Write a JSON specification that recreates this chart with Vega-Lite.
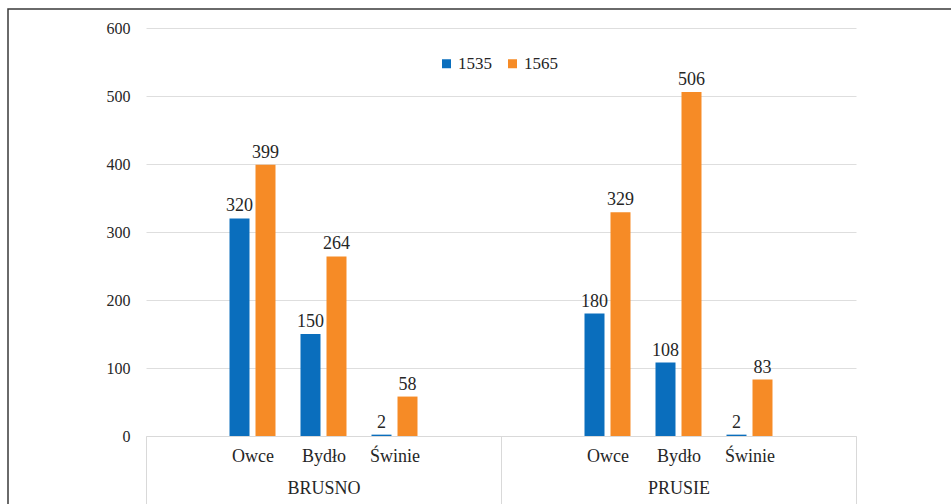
{
  "$schema": "https://vega.github.io/schema/vega-lite/v6.json",
  "width": 946,
  "height": 498,
  "autosize": {"type": "none"},
  "padding": {"left": 8, "top": 9, "right": 0, "bottom": 0},
  "background": "white",
  "config": {
    "view": {"stroke": "#3a3a3a", "strokeWidth": 1.5},
    "font": "Liberation Serif",
    "axis": {"labelFont": "Liberation Serif", "labelColor": "#262626"},
    "legend": {"labelFont": "Liberation Serif", "labelColor": "#262626"},
    "text": {"font": "Liberation Serif", "color": "#262626"}
  },
  "datasets": {
    "bars": [
      {"cat": "B1|Owce", "year": "1535", "value": 320},
      {"cat": "B1|Owce", "year": "1565", "value": 399},
      {"cat": "B2|Bydło|BRUSNO", "year": "1535", "value": 150},
      {"cat": "B2|Bydło|BRUSNO", "year": "1565", "value": 264},
      {"cat": "B3|Świnie", "year": "1535", "value": 2},
      {"cat": "B3|Świnie", "year": "1565", "value": 58},
      {"cat": "P1|Owce", "year": "1535", "value": 180},
      {"cat": "P1|Owce", "year": "1565", "value": 329},
      {"cat": "P2|Bydło|PRUSIE", "year": "1535", "value": 108},
      {"cat": "P2|Bydło|PRUSIE", "year": "1565", "value": 506},
      {"cat": "P3|Świnie", "year": "1535", "value": 2},
      {"cat": "P3|Świnie", "year": "1565", "value": 83}
    ]
  },
  "data": {"name": "bars"},
  "encoding": {
    "x": {
      "field": "cat",
      "type": "nominal",
      "sort": null,
      "title": null,
      "scale": {
        "domain": ["B0|", "B1|Owce", "B2|Bydło|BRUSNO", "B3|Świnie", "B4|", "P0|", "P1|Owce", "P2|Bydło|PRUSIE", "P3|Świnie", "P4|"],
        "range": [138, 848],
        "paddingInner": 0,
        "paddingOuter": 0
      },
      "axis": {
        "orient": "bottom",
        "offset": -71,
        "labelExpr": "length(split(datum.value, '|')) > 2 ? [split(datum.value, '|')[1], split(datum.value, '|')[2]] : split(datum.value, '|')[1]",
        "labelAngle": 0,
        "labelFont": "Liberation Serif",
        "labelFontSize": 18,
        "labelLineHeight": 32,
        "labelBaseline": "top",
        "labelColor": "#262626",
        "labelPadding": -64,
        "labelOverlap": false,
        "labelBound": false,
        "ticks": true,
        "tickBand": "extent",
        "tickSize": 75,
        "tickWidth": 1,
        "tickColor": "#d9d9d9",
        "tickOpacity": {
          "condition": {"test": "datum.value === 'B4|' || datum.value === 'P4|' || datum.extra", "value": 1},
          "value": 0
        },
        "domain": true,
        "domainColor": "#d9d9d9",
        "domainWidth": 1,
        "grid": false
      }
    },
    "y": {
      "field": "value",
      "type": "quantitative",
      "title": null,
      "scale": {"domain": [0, 600], "range": [427, 19], "nice": false},
      "axis": {
        "orient": "left",
        "offset": -138,
        "values": [0, 100, 200, 300, 400, 500, 600],
        "labelFont": "Liberation Serif",
        "labelFontSize": 16,
        "labelColor": "#262626",
        "labelPadding": 16,
        "ticks": false,
        "domain": false,
        "grid": true,
        "gridColor": "#dedede",
        "gridWidth": 1
      }
    },
    "xOffset": {
      "field": "year",
      "type": "nominal",
      "scale": {"domain": ["1535", "1565"], "paddingInner": 0.2308, "paddingOuter": 0.4808}
    }
  },
  "layer": [
    {
      "mark": {"type": "bar"},
      "encoding": {
        "color": {
          "field": "year",
          "type": "nominal",
          "scale": {"domain": ["1535", "1565"], "range": ["#0a6ebd", "#f68b26"]},
          "legend": {
            "orient": "none",
            "legendX": 430,
            "legendY": 46,
            "direction": "horizontal",
            "title": null,
            "symbolType": "square",
            "symbolSize": 81,
            "symbolStrokeWidth": 0,
            "labelFont": "Liberation Serif",
            "labelFontSize": 17,
            "labelColor": "#262626",
            "labelOffset": 3,
            "columnPadding": 12,
            "padding": 0
          }
        }
      }
    },
    {
      "mark": {"type": "text", "baseline": "alphabetic", "dy": -7, "fontSize": 18},
      "encoding": {
        "text": {"field": "value", "type": "quantitative"}
      }
    }
  ]
}
